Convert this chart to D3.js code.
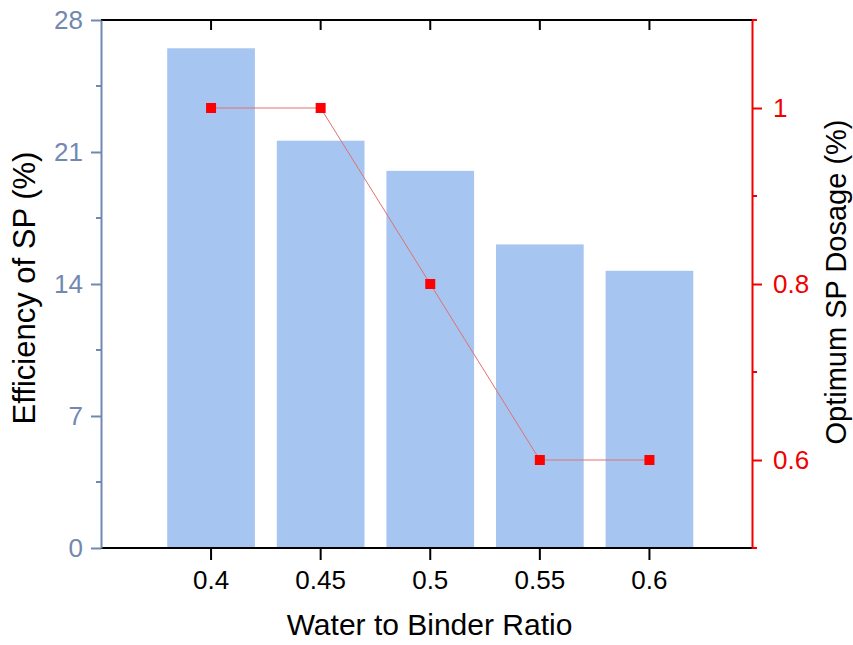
<!DOCTYPE html>
<html>
<head>
<meta charset="utf-8">
<script src="https://cdn.jsdelivr.net/npm/d3@7"></script>
<style>
  body { margin: 0; background: #fff; }
  text { font-family: "Liberation Sans", Arial, sans-serif; }
</style>
</head>
<body>
<svg id="chart" width="853" height="645"></svg>
<script>
// water to binder ratios
const ratios = ['0.4', '0.45', '0.5', '0.55', '0.6'];
// efficiency of SP (%) - bars, left axis
const efficiency = [26.5, 21.6, 20.0, 16.1, 14.7];
// optimum SP dosage (%) - line, right axis
const dosage = [1.0, 1.0, 0.8, 0.6, 0.6];
// tick values
const leftTicks = [0, 7, 14, 21, 28];
const leftMinor = [3.5, 10.5, 17.5, 24.5];
const rightTicks = [0.6, 0.8, 1];
const rightMinor = [0.5, 0.7, 0.9, 1.1];

const width = 853, height = 645;
const margin = { top: 20, right: 101, bottom: 97, left: 101 };
const leftColor = '#7189b1';
const rightColor = '#f00000';

const svg = d3.select('#chart');

const x = d3.scaleBand()
    .domain(ratios)
    .range([margin.left, width - margin.right])
    .paddingInner(0.2)
    .paddingOuter(0.57)
    .align(0.53);

const yLeft = d3.scaleLinear()
    .domain([0, 28])
    .range([height - margin.bottom, margin.top]);

const yRight = d3.scaleLinear()
    .domain([0.5, 1.1])
    .range([height - margin.bottom, margin.top]);

// bars
svg.append('g').selectAll('rect')
    .data(efficiency)
    .join('rect')
    .attr('x', (d, i) => x(ratios[i]))
    .attr('width', x.bandwidth())
    .attr('y', d => yLeft(d))
    .attr('height', d => yLeft(0) - yLeft(d))
    .attr('fill', '#a7c5f1');

// line + markers
const cx = (d, i) => x(ratios[i]) + x.bandwidth() / 2;
const line = d3.line()
    .x(cx)
    .y(d => yRight(d));

svg.append('path')
    .datum(dosage)
    .attr('d', line)
    .attr('fill', 'none')
    .attr('stroke', '#e07070')
    .attr('stroke-width', 1);

svg.append('g').selectAll('rect')
    .data(dosage)
    .join('rect')
    .attr('x', (d, i) => cx(d, i) - 5)
    .attr('y', d => yRight(d) - 5)
    .attr('width', 10)
    .attr('height', 10)
    .attr('fill', '#ff0000');

// axes
const tickFont = 26;

// bottom axis
const bottomAxis = svg.append('g')
    .attr('transform', 'translate(0,' + (height - margin.bottom) + ')')
    .call(d3.axisBottom(x).tickSize(12).tickPadding(11).tickSizeOuter(0));
bottomAxis.select('.domain').attr('stroke', '#000').attr('stroke-width', 2)
    .attr('d', 'M' + margin.left + ',0H' + (width - margin.right));
bottomAxis.selectAll('.tick line').attr('stroke', '#000').attr('stroke-width', 2);
bottomAxis.selectAll('.tick text').attr('font-size', tickFont).attr('fill', '#000');

// top axis (inward ticks, no labels)
const topAxis = svg.append('g')
    .attr('transform', 'translate(0,' + margin.top + ')')
    .call(d3.axisBottom(x).tickSize(10).tickFormat('').tickSizeOuter(0));
topAxis.select('.domain').attr('stroke', '#000').attr('stroke-width', 2)
    .attr('d', 'M' + margin.left + ',0H' + (width - margin.right));
topAxis.selectAll('.tick line').attr('stroke', '#000').attr('stroke-width', 2);

// left axis
const leftAxis = svg.append('g')
    .attr('transform', 'translate(' + margin.left + ',0)')
    .call(d3.axisLeft(yLeft).tickValues(leftTicks).tickSize(10).tickPadding(8).tickSizeOuter(0));
leftAxis.select('.domain').attr('stroke', leftColor).attr('stroke-width', 2);
leftAxis.selectAll('.tick line').attr('stroke', leftColor).attr('stroke-width', 2);
leftAxis.selectAll('.tick text').attr('font-size', tickFont).attr('fill', leftColor);
leftAxis.append('g').selectAll('line')
    .data(leftMinor)
    .join('line')
    .attr('x1', -5).attr('x2', 0)
    .attr('y1', d => yLeft(d)).attr('y2', d => yLeft(d))
    .attr('stroke', leftColor).attr('stroke-width', 2);

// right axis
const rightAxis = svg.append('g')
    .attr('transform', 'translate(' + (width - margin.right) + ',0)')
    .call(d3.axisRight(yRight).tickValues(rightTicks).tickFormat(d3.format('')).tickSize(10).tickPadding(11).tickSizeOuter(0));
rightAxis.select('.domain').attr('stroke', rightColor).attr('stroke-width', 2);
rightAxis.selectAll('.tick line').attr('stroke', rightColor).attr('stroke-width', 2);
rightAxis.selectAll('.tick text').attr('font-size', tickFont).attr('fill', rightColor);
rightAxis.append('g').selectAll('line')
    .data(rightMinor)
    .join('line')
    .attr('x1', 0).attr('x2', 5)
    .attr('y1', d => yRight(d)).attr('y2', d => yRight(d))
    .attr('stroke', rightColor).attr('stroke-width', 2);

// titles
svg.append('text')
    .attr('x', (margin.left + width - margin.right) / 2 + 3)
    .attr('y', 635)
    .attr('text-anchor', 'middle')
    .attr('font-size', 30)
    .text('Water to Binder Ratio');

svg.append('text')
    .attr('transform', 'translate(35,288) rotate(-90)')
    .attr('text-anchor', 'middle')
    .attr('font-size', 31)
    .text('Efficiency of SP (%)');

svg.append('text')
    .attr('transform', 'translate(846,282) rotate(-90)')
    .attr('text-anchor', 'middle')
    .attr('font-size', 29)
    .text('Optimum SP Dosage (%)');
</script>
</body>
</html>
